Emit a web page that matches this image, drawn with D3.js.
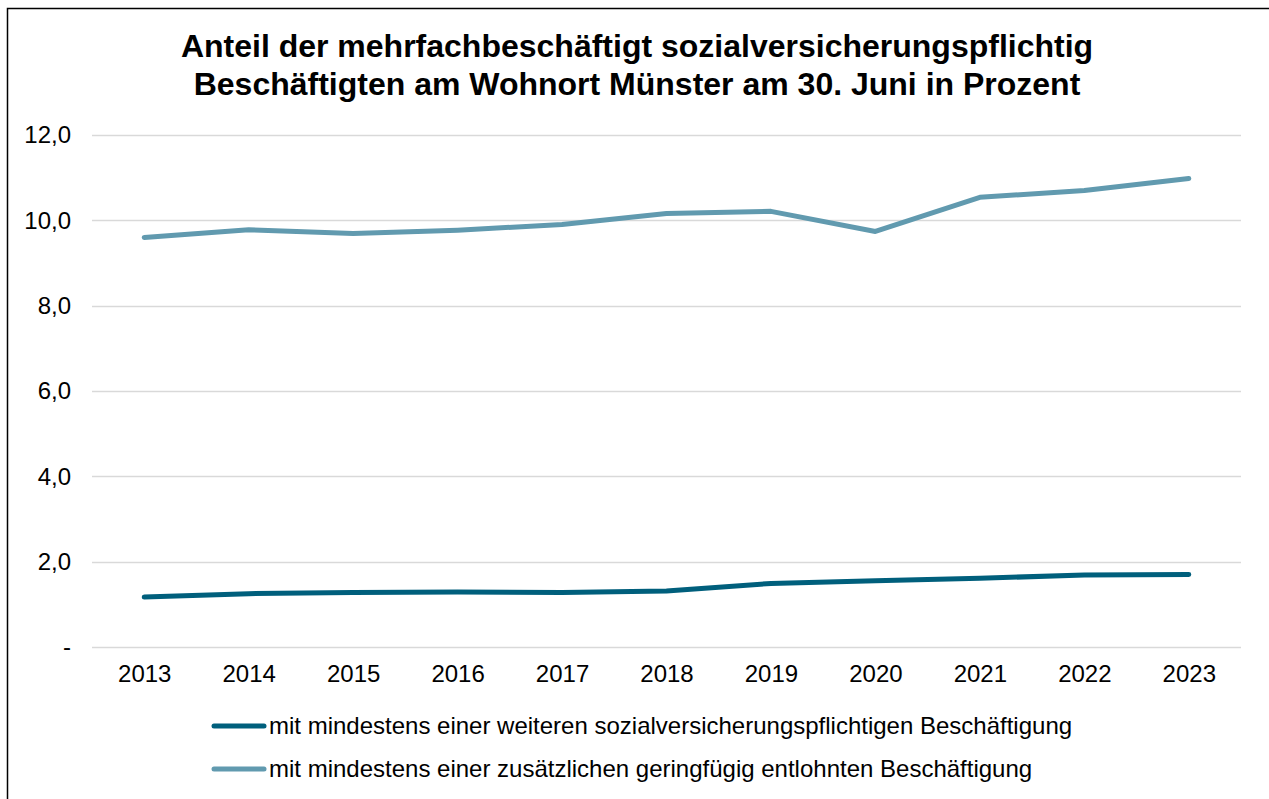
<!DOCTYPE html>
<html>
<head>
<meta charset="utf-8">
<script src="https://cdn.jsdelivr.net/npm/d3@7"></script>
<style>
  body { margin: 0; background: #fff; }
  text { font-family: Arial, "Liberation Sans", sans-serif; fill: #000; }
  .title { font-size: 32px; font-weight: bold; }
  .tick text { font-size: 24px; }
  .legend text { font-size: 24px; }
</style>
</head>
<body>
<div id="chart"></div>
<script>
// data
const years = ["2013", "2014", "2015", "2016", "2017", "2018", "2019", "2020", "2021", "2022", "2023"];
const weitereSvB = [1.17, 1.25, 1.28, 1.29, 1.28, 1.31, 1.49, 1.55, 1.61, 1.69, 1.70];
const geringfuegig = [9.60, 9.78, 9.69, 9.77, 9.90, 10.16, 10.21, 9.74, 10.54, 10.70, 10.98];
const yTicks = [0, 2, 4, 6, 8, 10, 12];
const seriesNames = [
    "mit mindestens einer weiteren sozialversicherungspflichtigen Beschäftigung",
    "mit mindestens einer zusätzlichen geringfügig entlohnten Beschäftigung"
];
const titleLines = [
    "Anteil der mehrfachbeschäftigt sozialversicherungspflichtig",
    "Beschäftigten am Wohnort Münster am 30. Juni in Prozent"
];

const width = 1269;
const height = 799;
const margin = {top: 135, left: 92, right: 28, bottom: 152};

const svg = d3.select("#chart")
    .append("svg")
    .attr("width", width)
    .attr("height", height);

// outer frame
svg.append("rect")
    .attr("x", 7.5)
    .attr("y", 8.5)
    .attr("width", width + 20)
    .attr("height", height + 20)
    .attr("fill", "none")
    .attr("stroke", "#000")
    .attr("stroke-width", 1.5);

// scales
const xScale = d3.scalePoint()
    .domain(years)
    .range([margin.left, width - margin.right])
    .padding(0.5);

const yScale = d3.scaleLinear()
    .domain([0, 12])
    .range([height - margin.bottom, margin.top]);

// gridlines
svg.append("g")
    .selectAll("line")
    .data(yTicks)
    .join("line")
    .attr("x1", margin.left)
    .attr("x2", width - margin.right)
    .attr("y1", d => Math.round(yScale(d)) + 0.5)
    .attr("y2", d => Math.round(yScale(d)) + 0.5)
    .attr("stroke", "#d9d9d9")
    .attr("stroke-width", 1.5);

// axes (labels only)
const fmt = d => d === 0 ? "-" : d3.format(".1f")(d).replace(".", ",");

const yAxis = svg.append("g")
    .attr("transform", `translate(${margin.left - 21},0)`)
    .call(d3.axisLeft(yScale).tickValues(yTicks).tickFormat(fmt).tickSize(0).tickPadding(0));
yAxis.select(".domain").remove();

const xAxis = svg.append("g")
    .attr("transform", `translate(0,${height - margin.bottom + 18})`)
    .call(d3.axisBottom(xScale).tickSize(0).tickPadding(0));
xAxis.select(".domain").remove();
yAxis.selectAll("text").attr("fill", "#000");
xAxis.selectAll("text").attr("fill", "#000");

// lines
const series = [
    {name: seriesNames[0], values: weitereSvB, color: "#005f7c"},
    {name: seriesNames[1], values: geringfuegig, color: "#619aaf"}
];

const line = d3.line()
    .x((d, i) => xScale(years[i]))
    .y(d => yScale(d));

svg.append("g")
    .selectAll("path")
    .data(series)
    .join("path")
    .attr("d", d => line(d.values))
    .attr("fill", "none")
    .attr("stroke", d => d.color)
    .attr("stroke-width", 5)
    .attr("stroke-linecap", "round")
    .attr("stroke-linejoin", "round");

// title
svg.append("text")
    .attr("class", "title")
    .attr("x", 637)
    .attr("text-anchor", "middle")
    .selectAll("tspan")
    .data(titleLines)
    .join("tspan")
    .attr("x", 637)
    .attr("y", (d, i) => 57 + i * 38)
    .text(d => d);

// legend
const legend = svg.append("g")
    .attr("class", "legend")
    .selectAll("g")
    .data(series)
    .join("g")
    .attr("transform", (d, i) => `translate(212,${726 + i * 43})`);

legend.append("line")
    .attr("x1", 2)
    .attr("x2", 52)
    .attr("stroke", d => d.color)
    .attr("stroke-width", 5)
    .attr("stroke-linecap", "round");

legend.append("text")
    .attr("x", 57)
    .attr("dy", "0.35em")
    .text(d => d.name);
</script>
</body>
</html>
